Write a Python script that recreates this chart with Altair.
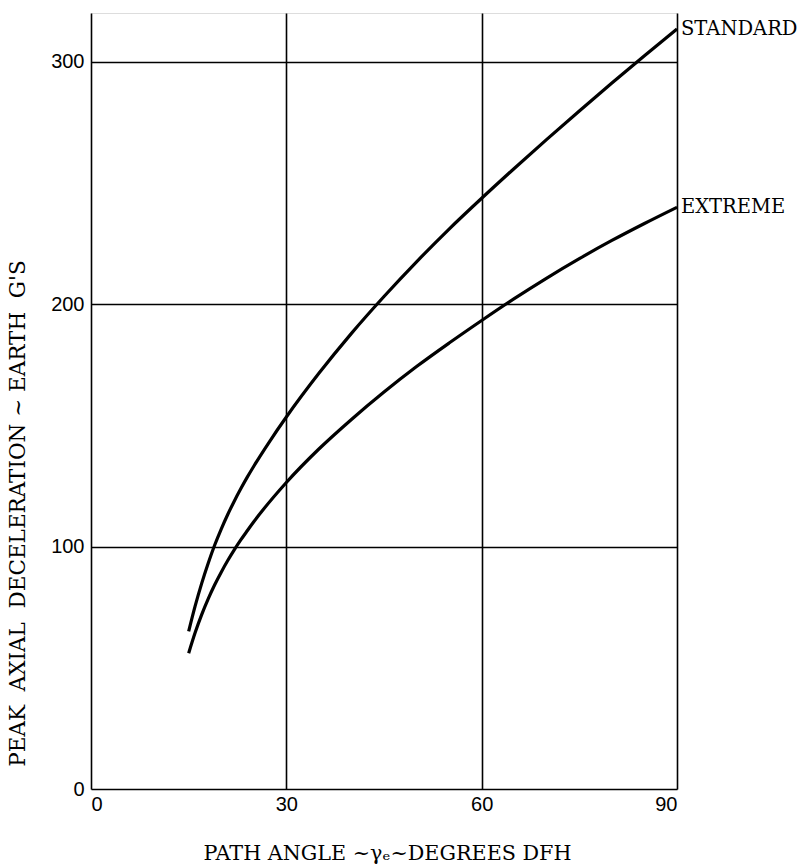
import altair as alt
import pandas as pd

std_x = [15, 16, 17, 18, 19, 20, 21, 22, 23, 24, 25, 27.5, 30, 35, 40, 45, 50, 55, 60, 65, 70, 75, 80, 85, 90]
std_y = [65, 75.5, 84.8, 93.1, 100.6, 107.2, 113.2, 118.7, 123.8, 128.6, 133.1, 143.6, 153.4,
         171.4, 187.9, 203.1, 217.4, 230.9, 243.6, 255.9, 267.9, 279.6, 291.1, 302.4, 313.4]
ext_x = [15, 16, 17, 18, 19, 20, 21, 22, 23, 24, 25, 30, 35, 40, 45, 50, 55, 60, 65, 70, 75, 80, 85, 90]
ext_y = [56, 64.5, 71.9, 78.4, 84.2, 89.4, 94.2, 98.6, 102.7, 106.5, 110.2, 126.4, 140.2,
         152.4, 163.7, 174.2, 183.9, 193.2, 202.2, 210.7, 218.7, 226.2, 233.2, 239.9]
series_names = ["STANDARD", "EXTREME"]
x_ticks = [0, 30, 60, 90]
y_ticks = [0, 100, 200, 300]

NB = "\u00a0"
x_title = "PATH ANGLE " + "~γₑ~" + "DEGREES DFH"
y_title = ("PEAK" + NB * 2 + "AXIAL" + NB * 2 + "DECELERATION" + NB + "~" + NB
           + "EARTH" + NB * 2 + "G'S")

rows = []
for xv, yv in zip(std_x, std_y):
    rows.append({"angle": xv, "g": yv, "series": series_names[0]})
for xv, yv in zip(ext_x, ext_y):
    rows.append({"angle": xv, "g": yv, "series": series_names[1]})
df = pd.DataFrame(rows)

lab = pd.DataFrame({
    "angle": [std_x[-1], ext_x[-1]],
    "g": [std_y[-1], ext_y[-1]],
    "series": series_names,
})

x_enc = alt.X(
    "angle:Q",
    scale=alt.Scale(domain=[0, 90], nice=False, zero=False),
    axis=alt.Axis(
        values=x_ticks, title=x_title,
        grid=True, gridColor="black", gridWidth=1.6, gridOpacity=1,
        domain=False, ticks=False, labelPadding=5,
        labelFont="Liberation Sans", labelFontSize=20, labelColor="black",
        titleFont="DejaVu Serif", titleFontSize=20.7, titleFontWeight="normal",
        titleColor="black", titleX=296, titleY=64, titleBaseline="middle",
        titleAlign="center",
    ),
)
y_enc = alt.Y(
    "g:Q",
    scale=alt.Scale(domain=[0, 320], nice=False, zero=True),
    axis=alt.Axis(
        values=y_ticks, title=y_title,
        grid=True, gridColor="black", gridWidth=1.6, gridOpacity=1,
        domain=False, ticks=False, labelPadding=7,
        labelFont="Liberation Sans", labelFontSize=20, labelColor="black",
        titleFont="DejaVu Serif", titleFontSize=21.5, titleFontWeight="normal",
        titleColor="black", titleAngle=270, titleX=-73, titleY=500,
        titleBaseline="middle", titleAlign="center",
    ),
)

lines = alt.Chart(df).mark_line(
    color="black", strokeWidth=3.2, interpolate="monotone"
).encode(x=x_enc, y=y_enc, detail="series:N")

labels = alt.Chart(lab).mark_text(
    align="left", baseline="middle", dx=4, fontSize=19.5,
    font="DejaVu Serif", color="black"
).encode(x="angle:Q", y="g:Q", text="series:N")

chart = alt.layer(lines, labels).properties(
    width=586, height=776,
    autosize=alt.AutoSizeParams(type="none"),
    padding={"left": 91, "top": 13, "right": 127, "bottom": 79},
).configure_view(
    stroke="black", strokeWidth=3
).configure(background="white")

chart.save("out.html", embed_options={"renderer": "svg", "actions": False})
